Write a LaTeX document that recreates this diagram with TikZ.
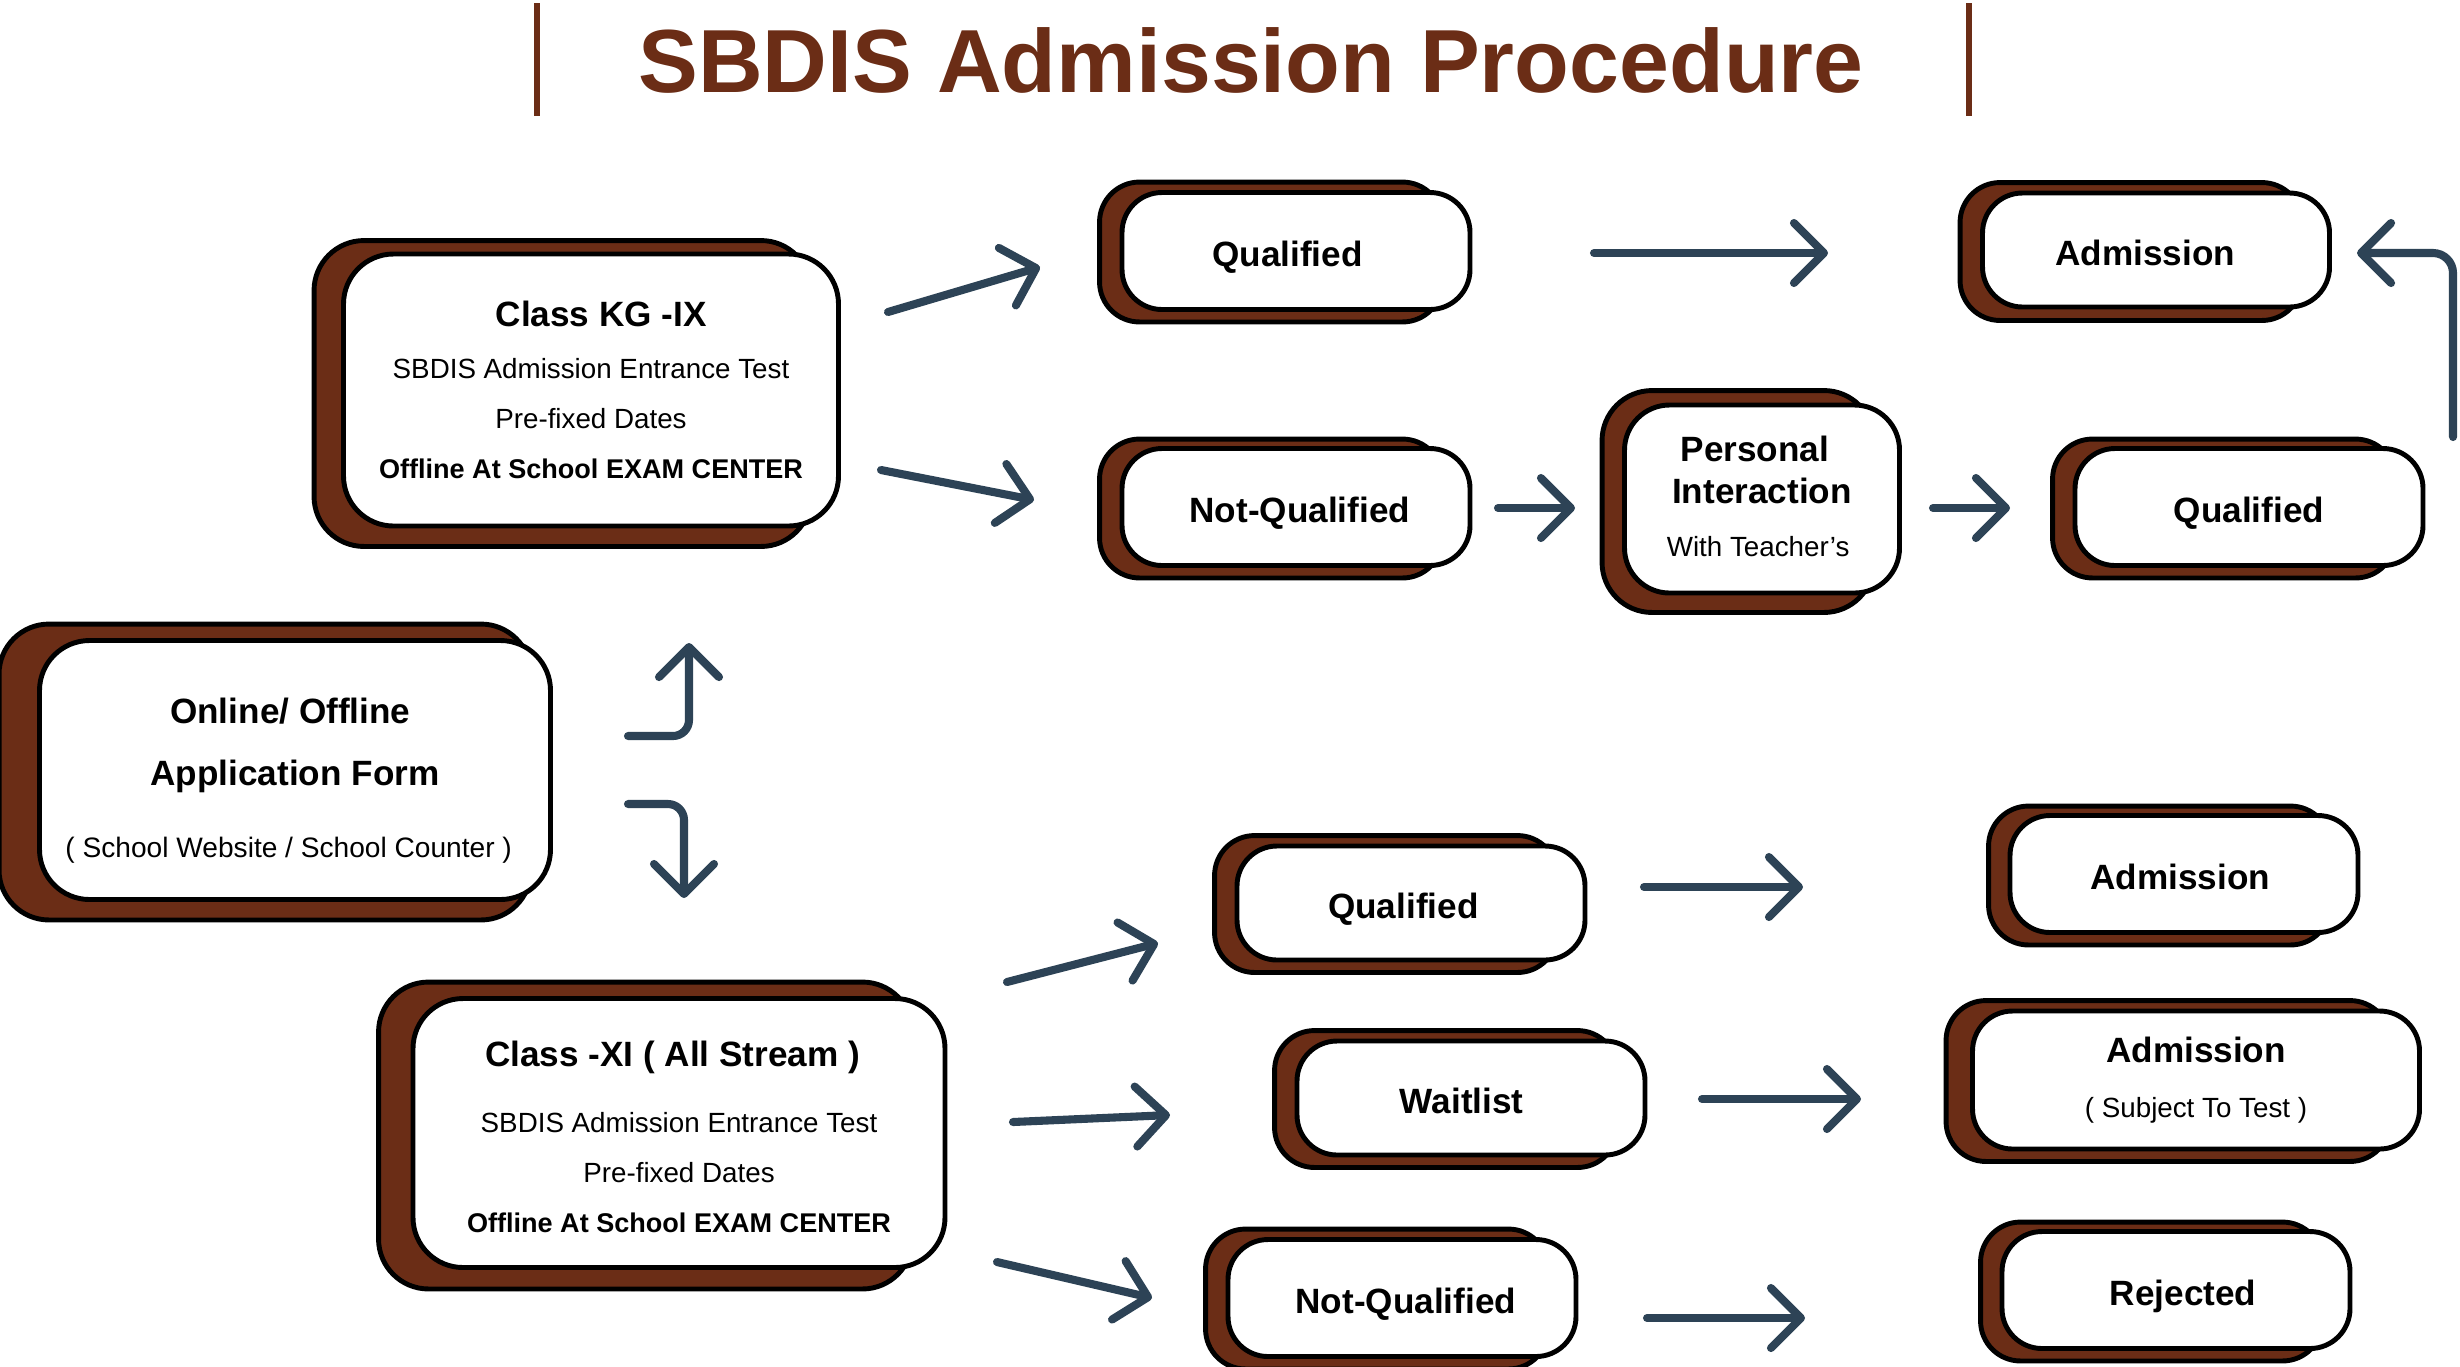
\documentclass[tikz,border=0pt]{standalone}
\usepackage{fontspec}
\setmainfont{Liberation Sans}
\usetikzlibrary{arrows.meta,calc,backgrounds}
\definecolor{brn}{RGB}{107,45,22}
\definecolor{arr}{RGB}{45,67,86}
\newcommand\hbt{\fontsize{10}{14.2}\selectfont\bfseries}
\newcommand\hst{\fontsize{7.9}{14.2}\selectfont\mdseries}
\newcommand\shl[2]{#2\hspace*{#1}}
\newcommand\shr[2]{\hspace*{#1}#2}
\newcommand\shadowof[5]{\draw[backbox] ($(#1.north west)+(-#2,-#3)$) rectangle ($(#1.south east)+(-#5,#4)$);}
\tikzset{
  frontbox/.style={draw=black, line width=1.4pt, fill=white, rounded corners=5mm, align=center, inner sep=0pt, font=\hbt},
  pill/.style={frontbox, rounded corners=4mm, minimum width=34.8mm, minimum height=11.7mm},
  oneline/.style={pill, text height=8.6pt, text depth=0pt},
  backbox/.style={draw=black, line width=1.4pt, fill=brn, rounded corners=5mm},
  flow/.style={draw=arr, line width=2.3pt, line cap=round, line join=round, -{Straight Barb[length=3mm, width=6mm, round]}},
  bar/.style={draw=brn, line width=1.7pt}
}
\begin{document}
\begin{tikzpicture}[x=0.1mm, y=-0.1mm]
\useasboundingbox (0,0) rectangle (2460,1366);
% title
\node[font=\fontsize{25.5}{30}\selectfont\bfseries, text=brn, anchor=base, inner sep=0pt] (title) at (1251,92) {SBDIS Admission Procedure};
\coordinate (bl1) at (537,3); \coordinate (bl2) at (537,116);
\coordinate (br1) at (1969,3); \coordinate (br2) at (1969,116);
\draw[bar] (bl1) -- (bl2);
\draw[bar] (br1) -- (br2);

% big boxes
\node[frontbox, minimum width=49.5mm, minimum height=27.2mm] (kg) at (591,390)
  {\shr{5.8pt}{Class KG -IX}\\[0.5pt] {\hst SBDIS Admission Entrance Test}\\ {\hst Pre-fixed Dates}\\ {\hst\fontsize{7.7}{14.2}\selectfont\bfseries Offline At School EXAM CENTER}};
\node[frontbox, minimum width=51.1mm, minimum height=25.9mm] (app) at (295,770)
  {\rule{0pt}{13.1pt}\shl{2.7pt}{Online/ Offline}\\[3.7pt] \shl{8pt}{Application Form}\\[6.1pt] {\fontsize{8}{14.2}\selectfont\mdseries \shl{3.6pt}{( School Website / School Counter )}}};
\node[frontbox, minimum width=53.2mm, minimum height=26.9mm] (xi) at (679,1133)
  {\rule{0pt}{9.5pt}\shl{3.6pt}{Class -XI ( All Stream )}\\[4.4pt] {\hst SBDIS Admission Entrance Test}\\ {\hst Pre-fixed Dates}\\ {\hst\fontsize{7.7}{14.2}\selectfont\bfseries Offline At School EXAM CENTER}};
\node[frontbox, rounded corners=4.5mm, minimum width=27.5mm, minimum height=18.8mm] (pi) at (1762,499)
  {\shl{4pt}{Personal}\\[-2.2pt] \shl{4.4pt}{Interaction}\\[0.8pt] {\hst \shl{2.2pt}{With Teacher’s}\rule[-1.8pt]{0pt}{1.8pt}}};

% pills
\node[oneline] (q1) at (1296,251) {\shl{4.9pt}{Qualified}};
\node[oneline] (nq1) at (1296,507) {\shr{2.2pt}{Not-Qualified}};
\node[oneline, minimum width=34.7mm, minimum height=11.4mm] (ad1) at (2156,250) {\shl{6.2pt}{Admission}};
\node[oneline] (q2) at (2249,507) {Qualified};
\node[oneline, minimum height=11.4mm] (q3) at (1411,903) {\shl{4.4pt}{Qualified}};
\node[oneline, minimum height=11.4mm] (wl) at (1471,1098) {\shl{5.3pt}{Waitlist}};
\node[oneline] (nq2) at (1402,1298) {\shr{2.2pt}{Not-Qualified}};
\node[oneline] (ad2) at (2184,874) {\shl{2.2pt}{Admission}};
\node[pill, minimum width=44.7mm, minimum height=13.8mm] (ad3) at (2196,1080)
  {Admission\\[1.3pt] {\hst ( Subject To Test )}};
\node[oneline] (rj) at (2176,1290) {\shr{4pt}{Rejected}};

% shadows
\begin{pgfonlayer}{background}
\fill[white] (0,0) rectangle (2460,1366);
\shadowof{kg}{27}{11}{18}{30}
\shadowof{app}{38}{14}{18}{22}
\shadowof{xi}{32}{14}{19}{35}
\shadowof{pi}{20}{12}{17}{28}
\begin{scope}[backbox/.append style={rounded corners=4mm}]
\shadowof{q1}{20}{8}{10}{30}
\shadowof{nq1}{20}{7}{10}{30}
\shadowof{ad1}{20}{8}{11}{30}
\shadowof{q2}{20}{7}{10}{30}
\shadowof{q3}{20}{8}{10}{30}
\shadowof{wl}{20}{8}{10}{30}
\shadowof{nq2}{20}{8}{10}{30}
\shadowof{ad2}{19}{7}{10}{30}
\shadowof{ad3}{24}{8}{10}{32}
\shadowof{rj}{19}{7}{10}{30}
\end{scope}
\end{pgfonlayer}

% arrow end points
\coordinate (a1s) at (888,312);  \coordinate (a1e) at (1040,267);
\coordinate (a2s) at (881,470);  \coordinate (a2e) at (1034,500);
\coordinate (a3s) at (1594,253); \coordinate (a3e) at (1828,253);
\coordinate (a4s) at (1498,508); \coordinate (a4e) at (1575,508);
\coordinate (a5s) at (1933,508); \coordinate (a5e) at (2010,508);
\coordinate (a6s) at (2453,437); \coordinate (a6e) at (2357,253);
\coordinate (b1s) at (628,736);  \coordinate (b1e) at (689,643);
\coordinate (b2s) at (628,804);  \coordinate (b2e) at (684,898);
\coordinate (c1s) at (1007,982); \coordinate (c1e) at (1158,943);
\coordinate (c2s) at (1013,1122);\coordinate (c2e) at (1170,1115);
\coordinate (c3s) at (997,1262); \coordinate (c3e) at (1152,1298);
\coordinate (d1s) at (1644,887); \coordinate (d1e) at (1803,887);
\coordinate (d2s) at (1702,1099);\coordinate (d2e) at (1861,1099);
\coordinate (d3s) at (1647,1318);\coordinate (d3e) at (1805,1318);

\draw[flow] (a1s) -- (a1e);
\draw[flow] (a2s) -- (a2e);
\draw[flow] (a3s) -- (a3e);
\draw[flow] (a4s) -- (a4e);
\draw[flow] (a5s) -- (a5e);
\draw[flow, rounded corners=2mm] (a6s) |- (a6e);
\draw[flow, rounded corners=1.6mm] (b1s) -| (b1e);
\draw[flow, rounded corners=1.6mm] (b2s) -| (b2e);
\draw[flow] (c1s) -- (c1e);
\draw[flow] (c2s) -- (c2e);
\draw[flow] (c3s) -- (c3e);
\draw[flow] (d1s) -- (d1e);
\draw[flow] (d2s) -- (d2e);
\draw[flow] (d3s) -- (d3e);
\end{tikzpicture}
\end{document}
